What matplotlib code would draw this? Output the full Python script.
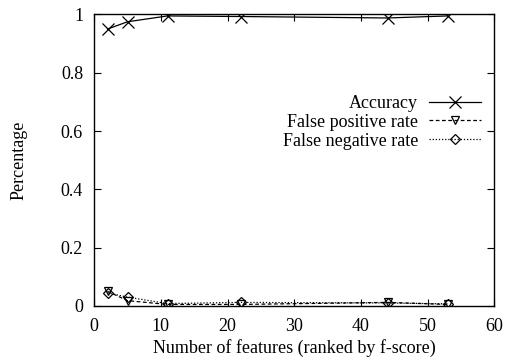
import matplotlib
matplotlib.use('Agg')
import matplotlib.pyplot as plt

# number of features (ranked by f-score)
features = [2, 5, 11, 22, 44, 53]
accuracy = [0.95, 0.975, 0.995, 0.993, 0.988, 0.995]
false_pos = [0.05, 0.018, 0.005, 0.005, 0.012, 0.005]
false_neg = [0.045, 0.03, 0.008, 0.012, 0.01, 0.007]

plt.rcParams['font.family'] = 'Liberation Serif'
plt.rcParams['font.size'] = 13

fig = plt.figure(figsize=(5.09, 3.62), dpi=100)
ax = fig.add_axes([0.185, 0.155, 0.786, 0.805])

ax.plot(features, accuracy, color='black', lw=0.9, ls='-', marker='x',
        markersize=8, mew=0.9, label='Accuracy')
ax.plot(features, false_pos, color='black', lw=0.9, ls=(0, (3, 2)), marker='v',
        markersize=6, mew=0.9, mfc='none', label='False positive rate')
ax.plot(features, false_neg, color='black', lw=0.9, ls=(0, (1, 1.5)), marker='D',
        markersize=5, mew=0.9, mfc='none', label='False negative rate')

ax.set_xlim(0, 60)
ax.set_ylim(0, 1)
ax.set_xticks(range(0, 61, 10))
ax.set_yticks([0, 0.2, 0.4, 0.6, 0.8, 1])
ax.set_yticklabels(['0', '0.2', '0.4', '0.6', '0.8', '1'])
ax.tick_params(direction='in', top=True, right=True, length=5, width=0.8, pad=8)
ax.tick_params(axis='x', pad=9)
for s in ax.spines.values():
    s.set_linewidth(1)

ax.set_xlabel('Number of features (ranked by f-score)', labelpad=3)
ax.set_ylabel('Percentage', labelpad=24)

ax.legend(loc='upper right', bbox_to_anchor=(0.99, 0.755), frameon=False,
          markerfirst=False, borderpad=0, labelspacing=0.1, handlelength=2.9,
          handletextpad=0.6, fontsize=13)

fig.savefig('out.png', dpi=100)
